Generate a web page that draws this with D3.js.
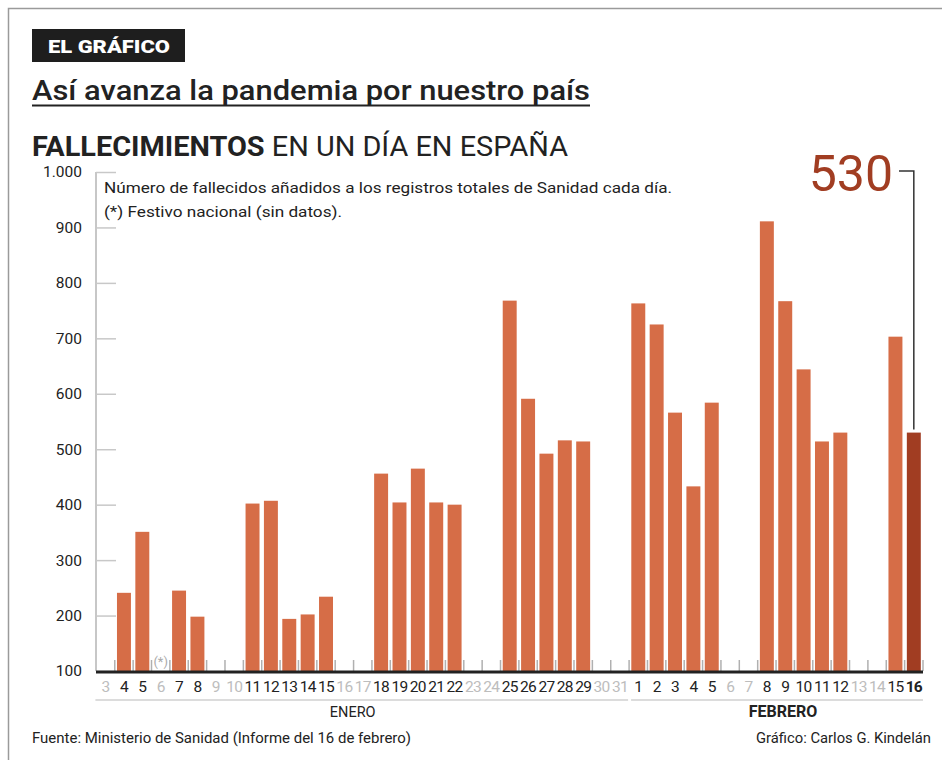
<!DOCTYPE html>
<html>
<head>
<meta charset="utf-8">
<script src="https://cdn.jsdelivr.net/npm/d3@7"></script>
<style>
  body { margin: 0; background: #fff; }
  svg { display: block; font-family: Roboto, "Noto Sans", sans-serif; }
</style>
</head>
<body>
<div class="chart"></div>
<script>
// days shown on the axis (3 Jan - 16 Feb)
var days = ["3","4","5","6","7","8","9","10","11","12","13","14","15","16","17","18","19","20",
  "21","22","23","24","25","26","27","28","29","30","31",
  "1","2","3","4","5","6","7","8","9","10","11","12","13","14","15","16"];
// deaths added each day, null = no report
var deaths = [null,241,351,null,245,198,null,null,402,407,194,202,234,null,null,456,404,465,
  404,400,null,null,768,591,492,516,514,null,null,
  763,725,566,433,584,null,null,911,767,644,514,530,null,null,703,530];
var monthNames = ["ENERO", "FEBRERO"];
var monthDays = [29, 16];
var holiday = 3; // 6 de enero
var yTicks = [100,200,300,400,500,600,700,800,900,1000];

var width = 942, height = 760;
var keys = days.map(function(d, i) { return i; });

var svg = d3.select(".chart").append("svg")
  .attr("width", width)
  .attr("height", height);

// frame
svg.append("path")
  .attr("d", "M8.5,760V8.5H942")
  .attr("fill", "none")
  .attr("stroke", "#9a9a9a")
  .attr("stroke-width", 1.5);

// header
svg.append("rect")
  .attr("x", 32).attr("y", 29).attr("width", 153).attr("height", 33)
  .attr("fill", "#1e1e1e");
svg.append("text")
  .attr("x", 48).attr("y", 53)
  .attr("fill", "#fff")
  .attr("font-size", 19).attr("font-weight", 900)
  .attr("textLength", 122).attr("lengthAdjust", "spacingAndGlyphs")
  .text("EL GRÁFICO");

svg.append("text")
  .attr("x", 32).attr("y", 100)
  .attr("fill", "#222")
  .attr("font-size", 28).attr("font-weight", 500)
  .attr("textLength", 558).attr("lengthAdjust", "spacingAndGlyphs")
  .text("Así avanza la pandemia por nuestro país");
svg.append("line")
  .attr("x1", 32).attr("x2", 590).attr("y1", 105.5).attr("y2", 105.5)
  .attr("stroke", "#222").attr("stroke-width", 2);

var sub = svg.append("text")
  .attr("x", 32).attr("y", 156)
  .attr("fill", "#222")
  .attr("font-size", 27)
  .attr("textLength", 536).attr("lengthAdjust", "spacingAndGlyphs");
sub.append("tspan").attr("font-weight", 700).text("FALLECIMIENTOS");
sub.append("tspan").text(" EN UN DÍA EN ESPAÑA");

// scales
var x = d3.scaleBand()
  .domain(keys)
  .range([96.4, 923])
  .paddingInner(0.24)
  .paddingOuter(0.12);

var y = d3.scaleLinear()
  .domain([100, 1000])
  .range([671, 172]);

var es = d3.formatLocale({ decimal: ",", thousands: ".", grouping: [3], currency: ["", "€"] });

// y axis
svg.append("line")
  .attr("x1", 96).attr("x2", 96).attr("y1", y(1000)).attr("y2", y(100))
  .attr("stroke", "#b5b5b5").attr("stroke-width", 1.5);

var grid = svg.append("g")
  .attr("transform", "translate(96,0)")
  .call(d3.axisRight(y).tickValues(yTicks).tickSize(20).tickFormat(""));
grid.select(".domain").remove();
grid.selectAll("line").attr("stroke", "#c8c8c8").attr("stroke-width", 1.5);

var yAxis = svg.append("g")
  .attr("transform", "translate(82,0)")
  .call(d3.axisLeft(y).tickValues(yTicks).tickSize(0).tickPadding(0).tickFormat(es.format(",")));
yAxis.select(".domain").remove();
yAxis.selectAll("text")
  .attr("font-size", 15.5)
  .attr("font-family", "Roboto, sans-serif")
  .attr("fill", "#222");

// note
svg.append("text")
  .attr("x", 104).attr("y", 193)
  .attr("font-size", 15.5).attr("fill", "#222")
  .attr("textLength", 568).attr("lengthAdjust", "spacingAndGlyphs")
  .text("Número de fallecidos añadidos a los registros totales de Sanidad cada día.");
svg.append("text")
  .attr("x", 104).attr("y", 217)
  .attr("font-size", 15.5).attr("fill", "#222")
  .attr("textLength", 238).attr("lengthAdjust", "spacingAndGlyphs")
  .text("(*) Festivo nacional (sin datos).");

// slot boundary ticks
var step = x.step();
var slotStart = function(i) { return x(i) - x.paddingInner() * step / 2; };
svg.append("g").selectAll("line")
  .data(d3.range(1, keys.length + 1))
  .join("line")
  .attr("x1", function(i) { return i < keys.length ? slotStart(i) : 923; })
  .attr("x2", function(i) { return i < keys.length ? slotStart(i) : 923; })
  .attr("y1", 660).attr("y2", 671)
  .attr("stroke", "#b0b0b0").attr("stroke-width", 1.5);

// bars
var last = keys.length - 1;
svg.append("g").selectAll("rect")
  .data(keys.filter(function(i) { return deaths[i] != null; }))
  .join("rect")
  .attr("x", function(i) { return x(i); })
  .attr("width", x.bandwidth())
  .attr("y", function(i) { return y(deaths[i]); })
  .attr("height", function(i) { return y(100) - y(deaths[i]); })
  .attr("fill", function(i) { return i === last ? "#a13d22" : "#d66d47"; });

// baseline
svg.append("line")
  .attr("x1", 96).attr("x2", 923).attr("y1", y(100) + 1).attr("y2", y(100) + 1)
  .attr("stroke", "#222").attr("stroke-width", 3);

// holiday mark
svg.append("text")
  .attr("x", x(holiday) + x.bandwidth() / 2).attr("y", 666)
  .attr("text-anchor", "middle")
  .attr("font-size", 13).attr("fill", "#aaa")
  .text("(*)");

// x labels
var xAxis = svg.append("g")
  .attr("transform", "translate(0," + y(100) + ")")
  .call(d3.axisBottom(x).tickSize(0).tickPadding(10).tickFormat(function(i) { return days[i]; }));
xAxis.select(".domain").remove();
xAxis.selectAll("text")
  .attr("font-size", 15.5)
  .attr("font-family", "Roboto, sans-serif")
  .attr("letter-spacing", -0.7)
  .attr("fill", function(i) { return deaths[i] == null ? "#bdbdbd" : "#222"; })
  .attr("font-weight", function(i) { return i === last ? 700 : 400; });

// month brackets
var offset = 0;
monthNames.forEach(function(m, k) {
  var x0 = slotStart(offset), x1 = offset + monthDays[k] < keys.length ? slotStart(offset + monthDays[k]) : 923;
  svg.append("line")
    .attr("x1", x0 + (k ? 2 : -1)).attr("x2", x1 - (k ? 0 : 1))
    .attr("y1", 700).attr("y2", 700)
    .attr("stroke", "#dcdcdc").attr("stroke-width", 2);
  svg.append("text")
    .attr("x", (x0 + x1) / 2 + (k ? 7 : -10))
    .attr("y", 717)
    .attr("text-anchor", "middle")
    .attr("font-size", k ? 16 : 14.5)
    .attr("font-weight", k ? 700 : 400)
    .attr("fill", "#222")
    .text(m);
  offset += monthDays[k];
});

// annotation for the last day
var lx = x(last) + x.bandwidth() / 2;
svg.append("text")
  .attr("x", 893).attr("y", 191)
  .attr("text-anchor", "end")
  .attr("font-size", 50)
  .attr("fill", "#a13d22")
  .text(deaths[last]);
svg.append("path")
  .attr("d", "M899,171H" + lx + "V" + (y(deaths[last]) - 3))
  .attr("fill", "none")
  .attr("stroke", "#333")
  .attr("stroke-width", 1.5);

// footer
svg.append("text")
  .attr("x", 32).attr("y", 743)
  .attr("font-size", 14.5).attr("fill", "#222")
  .attr("textLength", 379).attr("lengthAdjust", "spacingAndGlyphs")
  .text("Fuente: Ministerio de Sanidad (Informe del 16 de febrero)");
svg.append("text")
  .attr("x", 756).attr("y", 743)
  .attr("font-size", 14.5).attr("fill", "#222")
  .attr("textLength", 175).attr("lengthAdjust", "spacingAndGlyphs")
  .text("Gráfico: Carlos G. Kindelán");
</script>
</body>
</html>
